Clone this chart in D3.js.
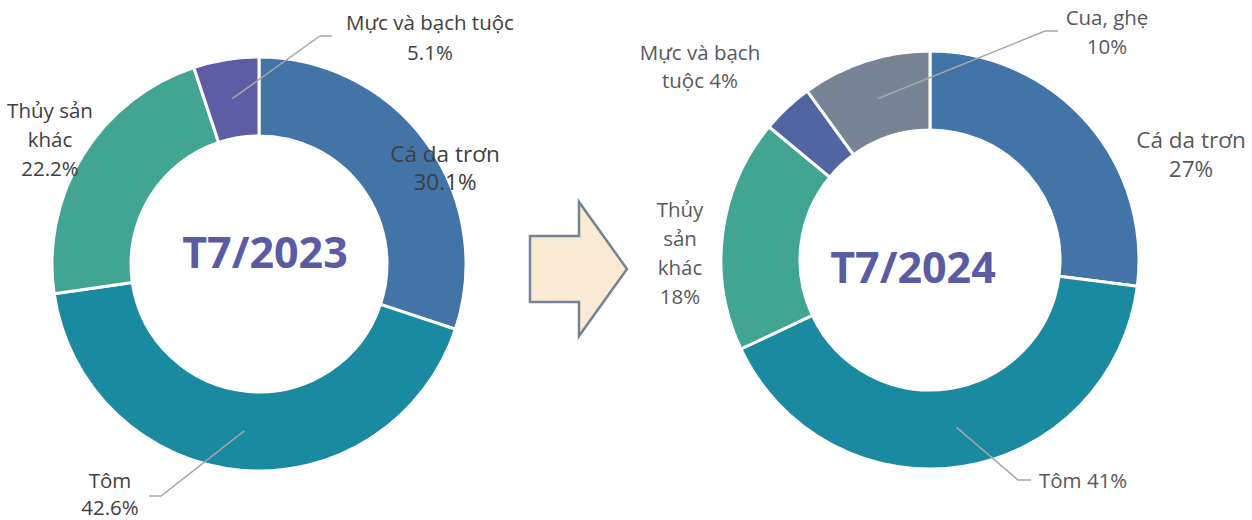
<!DOCTYPE html>
<html>
<head>
<meta charset="utf-8">
<script src="https://cdn.jsdelivr.net/npm/d3@7"></script>
<style>
  body { margin: 0; background: #fff; }
  text { font-family: "Open Sans", "Noto Sans", sans-serif; }
</style>
</head>
<body>
<div id="chart"></div>
<script>
// du lieu
var categories2023 = ["Cá da trơn", "Tôm", "Thủy sản khác", "Mực và bạch tuộc"];
var values2023 = [30.1, 42.6, 22.2, 5.1];
var labels2023 = [["Cá da trơn", "30.1%"], ["Tôm", "42.6%"], ["Thủy sản", "khác", "22.2%"], ["Mực và bạch tuộc", "5.1%"]];

var categories2024 = ["Cá da trơn", "Tôm", "Thủy sản khác", "Mực và bạch tuộc", "Cua, ghẹ"];
var values2024 = [27, 41, 18, 4, 10];
var labels2024 = [["Cá da trơn", "27%"], ["Tôm 41%"], ["Thủy", "sản", "khác", "18%"], ["Mực và bạch", "tuộc 4%"], ["Cua, ghẹ", "10%"]];

var titles = ["T7/2023", "T7/2024"];

// parametros
var width = 1252;
var height = 520;
var colors2023 = ["#4274a8", "#1a8aa1", "#42a592", "#5e5ca4"];
var colors2024 = ["#4274a8", "#1a8aa1", "#42a592", "#5265a3", "#778495"];

var svg = d3.select("#chart").append("svg")
  .attr("width", width)
  .attr("height", height);

var pie = d3.pie().sort(null);

function drawDonut(cfg) {
  var g = svg.append("g")
    .attr("transform", `translate(${cfg.cx}, ${cfg.cy})`);

  var arc = d3.arc().innerRadius(cfg.inner).outerRadius(cfg.outer);
  var mid = d3.arc().innerRadius((cfg.inner + cfg.outer) / 2).outerRadius((cfg.inner + cfg.outer) / 2);
  var color = d3.scaleOrdinal().domain(cfg.categories).range(cfg.colors);

  var arcs = pie(cfg.values);
  arcs.forEach((d, i) => d.cat = cfg.categories[i]);

  g.selectAll("path.slice")
    .data(arcs).enter()
    .append("path")
    .attr("class", "slice")
    .attr("d", arc)
    .attr("fill", d => color(d.cat))
    .attr("stroke", "#fff")
    .attr("stroke-width", 3);

  // leader lines
  cfg.leaders.forEach(function (l) {
    var c = mid.centroid(arcs[l.i]);
    var pts = [[c[0] + cfg.cx, c[1] + cfg.cy], l.elbow, l.end];
    svg.append("path")
      .attr("d", d3.line()(pts))
      .attr("fill", "none")
      .attr("stroke", "#a6a6a6")
      .attr("stroke-width", 1.5);
  });

  // labels
  cfg.labelPos.forEach(function (p, i) {
    var t = svg.append("text")
      .attr("text-anchor", p.anchor || "middle")
      .attr("fill", cfg.textColor)
      .style("font-size", (p.size || 20.5) + "px");
    cfg.labels[i].forEach(function (line, k) {
      t.append("tspan")
        .attr("x", p.x)
        .attr("y", p.y + k * (p.lh || 29))
        .text(line);
    });
  });

  svg.append("text")
    .attr("x", cfg.titleX)
    .attr("y", cfg.titleY)
    .attr("text-anchor", "middle")
    .attr("fill", "#5b5ba4")
    .style("font-size", "43px")
    .style("font-weight", "bold")
    .text(cfg.title);
}

drawDonut({
  cx: 259, cy: 264, outer: 207, inner: 128,
  categories: categories2023, values: values2023, colors: colors2023,
  labels: labels2023, textColor: "#404040",
  labelPos: [
    { x: 445, y: 162, size: 22.5, lh: 28 },
    { x: 110, y: 488, lh: 27 },
    { x: 50, y: 118 },
    { x: 430, y: 30, lh: 30 }
  ],
  leaders: [
    { i: 3, elbow: [320, 36], end: [332, 36] },
    { i: 1, elbow: [161, 496], end: [149, 496] }
  ],
  title: titles[0], titleX: 265, titleY: 268
});

drawDonut({
  cx: 930, cy: 260, outer: 209, inner: 130,
  categories: categories2024, values: values2024, colors: colors2024,
  labels: labels2024, textColor: "#595959",
  labelPos: [
    { x: 1191, y: 148, size: 22.5 },
    { x: 1039, y: 488, anchor: "start" },
    { x: 680, y: 217 },
    { x: 700, y: 60, lh: 28 },
    { x: 1107, y: 25 }
  ],
  leaders: [
    { i: 4, elbow: [1045, 31], end: [1058, 31] },
    { i: 1, elbow: [1018, 480], end: [1031, 480] }
  ],
  title: titles[1], titleX: 913, titleY: 283
});

// mui ten
var arrowPts = [[530, 236], [579, 236], [579, 202], [627, 269], [579, 336], [579, 302], [530, 302]];
svg.append("path")
  .attr("d", d3.line()(arrowPts) + "Z")
  .attr("fill", "#fbead3")
  .attr("stroke", "#748494")
  .attr("stroke-width", 2.5)
  .attr("stroke-linejoin", "miter");
</script>
</body>
</html>
